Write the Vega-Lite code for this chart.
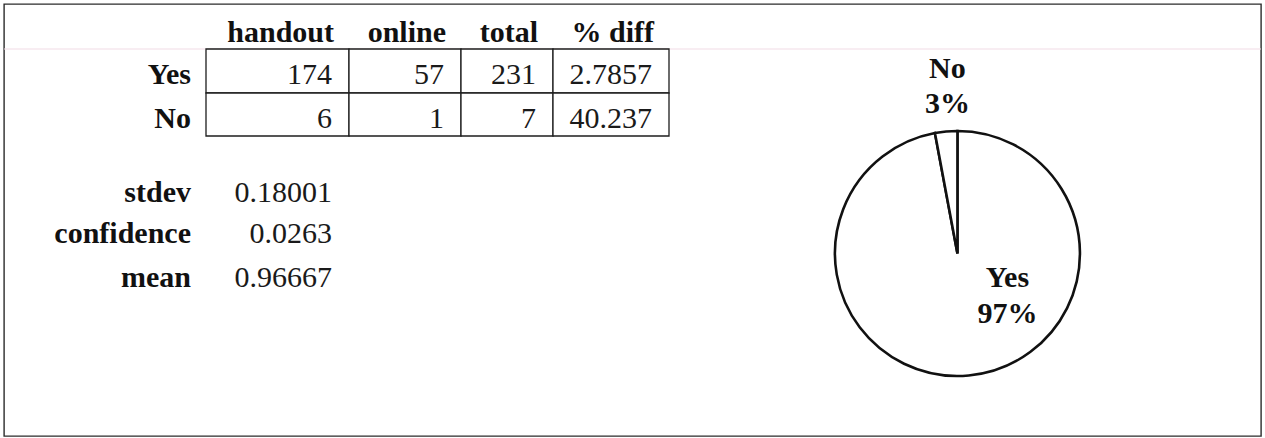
{
  "$schema": "https://vega.github.io/schema/vega-lite/v6.json",
  "width": 1265,
  "height": 438,
  "autosize": {"type": "fit", "contains": "padding"},
  "padding": {"left": 3, "top": 4, "right": 3, "bottom": 2},
  "background": "white",
  "config": {"view": {"stroke": "#2b2b2b", "strokeWidth": 1.4}},
  "datasets": {
    "cells": [
      {"row": "Yes", "ri": 1, "col": "handout", "ci": 1, "value": 174},
      {"row": "Yes", "ri": 1, "col": "online", "ci": 2, "value": 57},
      {"row": "Yes", "ri": 1, "col": "total", "ci": 3, "value": 231},
      {"row": "Yes", "ri": 1, "col": "% diff", "ci": 4, "value": 2.7857},
      {"row": "No", "ri": 2, "col": "handout", "ci": 1, "value": 6},
      {"row": "No", "ri": 2, "col": "online", "ci": 2, "value": 1},
      {"row": "No", "ri": 2, "col": "total", "ci": 3, "value": 7},
      {"row": "No", "ri": 2, "col": "% diff", "ci": 4, "value": 40.237}
    ],
    "headers": [
      {"text": "handout", "ri": 0, "ci": 1},
      {"text": "online", "ri": 0, "ci": 2},
      {"text": "total", "ri": 0, "ci": 3},
      {"text": "% diff", "ri": 0, "ci": 4},
      {"text": "Yes", "ri": 1, "ci": 0},
      {"text": "No", "ri": 2, "ci": 0}
    ],
    "stats": [
      {"stat": "stdev", "ri": 4, "value": 0.18001},
      {"stat": "confidence", "ri": 5, "value": 0.0263},
      {"stat": "mean", "ri": 6, "value": 0.96667}
    ],
    "pie": [
      {"answer": "Yes", "count": 231},
      {"answer": "No", "count": 7}
    ]
  },
  "layer": [
    {
      "data": {"values": [{"line": "page"}]},
      "mark": {"type": "rule", "color": "#f2dbe5", "strokeWidth": 1.2},
      "encoding": {
        "y": {"datum": 1, "type": "quantitative", "axis": null,
              "scale": {"domain": [0, 1, 2, 3, 4, 5, 6, 7], "range": [3, 45, 89, 132, 163, 204, 248, 292], "nice": false, "zero": false}}
      }
    },
    {
      "data": {"name": "cells"},
      "transform": [{"calculate": "datum.ci + 1", "as": "ce"}, {"calculate": "datum.ri + 1", "as": "re"}],
      "mark": {"type": "rect", "fill": "white", "stroke": "#1e1e1e", "strokeWidth": 1.3},
      "encoding": {
        "x": {"field": "ci", "type": "quantitative", "axis": null,
              "scale": {"domain": [0, 1, 2, 3, 4, 5], "range": [97, 202, 345, 457, 549, 665], "nice": false, "zero": false}},
        "x2": {"field": "ce"},
        "y": {"field": "ri", "type": "quantitative", "axis": null,
              "scale": {"domain": [0, 1, 2, 3, 4, 5, 6, 7], "range": [3, 45, 89, 132, 163, 204, 248, 292], "nice": false, "zero": false}},
        "y2": {"field": "re"}
      }
    },
    {
      "data": {"name": "cells"},
      "transform": [{"calculate": "datum.ci + 1", "as": "ce"}],
      "mark": {"type": "text", "align": "right", "baseline": "alphabetic", "dx": -17, "dy": 35, "font": "Liberation Serif", "fontSize": 30, "color": "#1a1a1a"},
      "encoding": {
        "x": {"field": "ce", "type": "quantitative", "axis": null},
        "y": {"field": "ri", "type": "quantitative", "axis": null},
        "text": {"field": "value", "type": "nominal"}
      }
    },
    {
      "data": {"name": "headers"},
      "transform": [{"calculate": "datum.ci + 1", "as": "ce"}],
      "mark": {"type": "text", "align": "right", "baseline": "alphabetic", "dx": -15, "dy": 35, "font": "Liberation Serif", "fontSize": 30, "fontWeight": "bold", "color": "#111111"},
      "encoding": {
        "x": {"field": "ce", "type": "quantitative", "axis": null},
        "y": {"field": "ri", "type": "quantitative", "axis": null},
        "text": {"field": "text", "type": "nominal"}
      }
    },
    {
      "data": {"name": "stats"},
      "mark": {"type": "text", "align": "right", "baseline": "alphabetic", "dx": -15, "dy": 35, "font": "Liberation Serif", "fontSize": 30, "fontWeight": "bold", "color": "#111111"},
      "encoding": {
        "x": {"datum": 1, "type": "quantitative", "axis": null},
        "y": {"field": "ri", "type": "quantitative", "axis": null},
        "text": {"field": "stat", "type": "nominal"}
      }
    },
    {
      "data": {"name": "stats"},
      "mark": {"type": "text", "align": "right", "baseline": "alphabetic", "dx": -17, "dy": 35, "font": "Liberation Serif", "fontSize": 30, "color": "#1a1a1a"},
      "encoding": {
        "x": {"datum": 2, "type": "quantitative", "axis": null},
        "y": {"field": "ri", "type": "quantitative", "axis": null},
        "text": {"field": "value", "type": "nominal"}
      }
    },
    {
      "data": {"name": "pie"},
      "mark": {"type": "arc", "x": {"expr": "width * 0.7585"}, "y": {"expr": "height * 0.5775"}, "radius": 122.5, "fill": "white", "stroke": "#111111", "strokeWidth": 2.6},
      "encoding": {
        "theta": {"field": "count", "type": "quantitative", "stack": true},
        "detail": {"field": "answer", "type": "nominal"},
        "order": {"field": "count", "type": "quantitative", "sort": "descending"}
      }
    },
    {
      "data": {"name": "pie"},
      "transform": [
        {"joinaggregate": [{"op": "sum", "field": "count", "as": "total"}]},
        {"calculate": "datum.answer + '\\n' + format(datum.count / datum.total, '.0%')", "as": "label"},
        {"filter": "datum.answer === 'No'"}
      ],
      "mark": {"type": "text", "x": {"expr": "width * 0.7585"}, "y": {"expr": "height * 0.5775"}, "dx": -10, "dy": -175.5, "align": "center", "baseline": "alphabetic", "lineBreak": "\n", "lineHeight": 35, "font": "Liberation Serif", "fontSize": 30, "fontWeight": "bold", "color": "#111111"},
      "encoding": {"text": {"field": "label", "type": "nominal"}}
    },
    {
      "data": {"name": "pie"},
      "transform": [
        {"joinaggregate": [{"op": "sum", "field": "count", "as": "total"}]},
        {"calculate": "datum.answer + '\\n' + format(datum.count / datum.total, '.0%')", "as": "label"},
        {"filter": "datum.answer === 'Yes'"}
      ],
      "mark": {"type": "text", "x": {"expr": "width * 0.7585"}, "y": {"expr": "height * 0.5775"}, "dx": 50, "dy": 33.5, "align": "center", "baseline": "alphabetic", "lineBreak": "\n", "lineHeight": 36, "font": "Liberation Serif", "fontSize": 30, "fontWeight": "bold", "color": "#111111"},
      "encoding": {"text": {"field": "label", "type": "nominal"}}
    }
  ]
}
